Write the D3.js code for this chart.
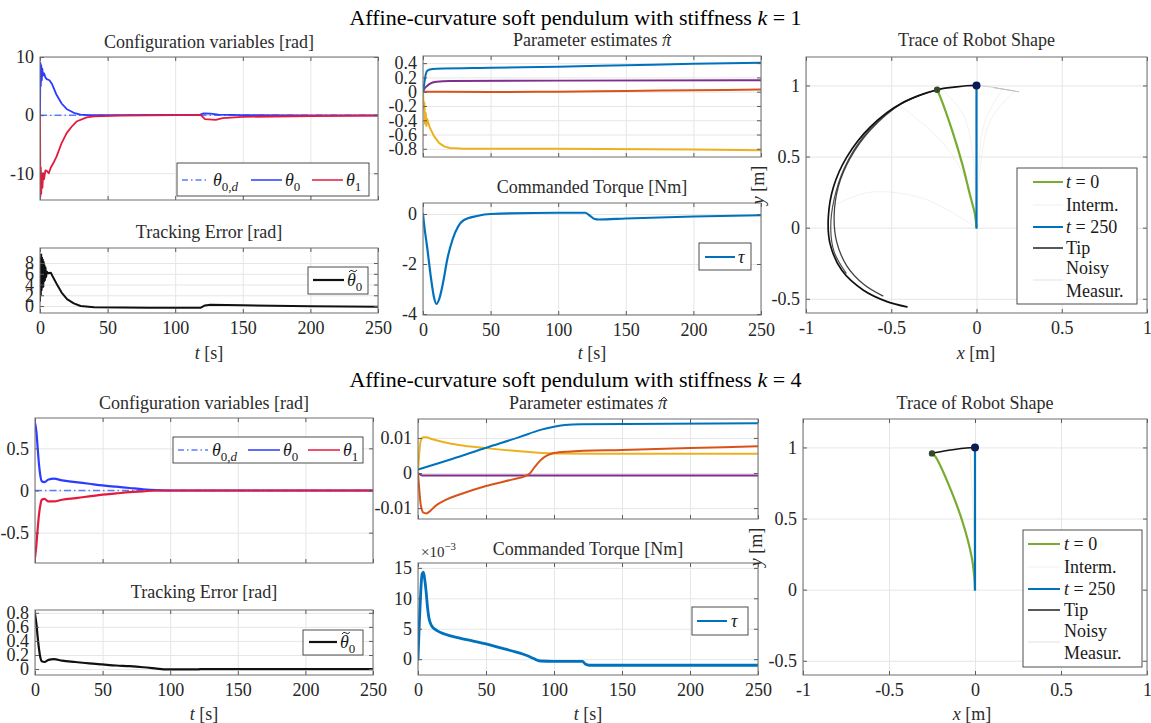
<!DOCTYPE html>
<html>
<head>
<meta charset="utf-8">
<script src="https://cdn.jsdelivr.net/npm/d3@7"></script>
<style>
  body { margin: 0; background: #fff; }
  svg text { font-family: "Liberation Serif", "DejaVu Serif", serif; fill: #262626; }
  .tick text { font-size: 18px; }
  .grid line { stroke: #e6e6e6; stroke-width: 1; }
  .grid path, .axis path { display: none; }
  .axis line { stroke: #5a5a5a; }
</style>
</head>
<body>
<div id="chart"></div>
<script>
// ---------- tick values ----------
const tTicks = [0, 50, 100, 150, 200, 250];
const cfgTicksK1 = [-10, 0, 10];
const errTicksK1 = [0, 2, 4, 6, 8];
const parTicksK1 = [-0.8, -0.6, -0.4, -0.2, 0, 0.2, 0.4];
const torTicksK1 = [-4, -2, 0];
const cfgTicksK4 = [-0.5, 0, 0.5];
const errTicksK4 = [0, 0.2, 0.4, 0.6, 0.8];
const parTicksK4 = [-0.01, 0, 0.01];
const torTicksK4 = [0, 5, 10, 15]; // x 10^-3
const traceXTicks = [-1, -0.5, 0, 0.5, 1];
const traceYTicks = [-0.5, 0, 0.5, 1];

// ---------- k = 1 : time series [t, value] ----------
const theta0dK1 = [[0, 0], [250, 0]];
const theta0K1 = [[0, 0], [0.3, 9], [0.6, 5], [0.9, 8.6], [1.3, 6], [1.7, 8], [2.2, 6.8], [3, 7.2], [4, 6.5],
  [5, 6.2], [7, 6], [9, 5.3], [12, 3.6], [16, 2], [20, 1], [25, 0.4], [30, 0.1], [35, 0], [60, 0], [90, 0.05],
  [118, 0.05], [121, 0.3], [126, 0.25], [132, 0.1], [150, 0], [200, -0.05], [250, -0.05]];
const theta1K1 = [[0, 0], [0.3, -14], [0.6, -9], [0.9, -13.5], [1.3, -10], [1.8, -12.5], [2.4, -10], [3, -11],
  [4, -9.5], [5, -9.6], [6.5, -10], [8, -9], [10, -8.2], [12.3, -7.1], [16, -4.8], [19.7, -3.1], [23.4, -2],
  [27, -1.1], [34.5, -0.4], [40, -0.2], [60, -0.1], [100, 0], [119, 0], [122, -0.7], [130, -0.8], [135, -0.5],
  [150, -0.3], [200, -0.15], [250, -0.1]];
const errK1 = [[0, 1], [0.3, 8.8], [0.6, 2], [0.9, 9.6], [1.2, 3], [1.5, 9], [1.8, 3.8], [2.1, 8.6], [2.4, 3.6],
  [2.7, 8.2], [3, 4.6], [3.3, 7.6], [3.6, 4.8], [4, 7.2], [4.5, 5.4], [5, 6.4], [6, 6.1], [8, 6.2], [10, 5.2],
  [13, 3.8], [16, 2.5], [20, 1.3], [25, 0.5], [30, 0], [40, -0.25], [80, -0.3], [119, -0.3], [122, 0.1],
  [126, 0.25], [150, 0.15], [200, -0.05], [250, -0.15]];
const parBlueK1 = [[0, 0], [1, 0.12], [2, 0.24], [3, 0.29], [5, 0.31], [10, 0.32], [50, 0.335], [100, 0.35],
  [150, 0.37], [200, 0.39], [250, 0.405]];
const parOrangeK1 = [[0, 0], [50, -0.005], [100, 0], [150, 0.01], [200, 0.02], [250, 0.03]];
const parYellowK1 = [[0, 0], [0.5, -0.25], [1, -0.15], [1.5, -0.45], [2, -0.3], [2.5, -0.48], [3, -0.38],
  [5, -0.5], [8, -0.62], [12, -0.72], [16, -0.77], [20, -0.79], [30, -0.8], [100, -0.8], [200, -0.81], [250, -0.82]];
const parPurpleK1 = [[0, 0], [1, 0.04], [3, 0.08], [6, 0.12], [10, 0.14], [20, 0.15], [100, 0.155], [250, 0.16]];
const torK1 = [[0, 0], [1, -0.5], [3, -1.3], [6, -2.6], [8, -3.3], [10, -3.6], [12, -3.4], [15, -2.7], [18, -1.8],
  [22, -1.0], [26, -0.5], [30, -0.25], [40, -0.08], [50, 0], [100, 0.05], [120, 0.05], [123, -0.05], [127, -0.2],
  [130, -0.22], [150, -0.18], [200, -0.1], [250, -0.05]];

// ---------- k = 4 : time series [t, value] ----------
const theta0dK4 = [[0, 0], [250, 0]];
const theta0K4 = [[0, 0.8], [1, 0.7], [2, 0.5], [3, 0.3], [4, 0.17], [5, 0.11], [7, 0.1], [10, 0.13], [14, 0.14],
  [20, 0.12], [30, 0.1], [40, 0.08], [50, 0.06], [60, 0.045], [70, 0.03], [80, 0.015], [90, 0.005], [100, 0], [250, 0]];
const theta1K4 = [[0, -0.8], [1, -0.65], [2, -0.45], [3, -0.28], [4, -0.17], [5, -0.11], [7, -0.1], [10, -0.13],
  [14, -0.13], [20, -0.11], [30, -0.09], [40, -0.07], [50, -0.05], [60, -0.035], [70, -0.02], [80, -0.01], [90, 0], [250, 0]];
const errK4 = [[0, 0.78], [1, 0.65], [2, 0.45], [3, 0.28], [4, 0.16], [5, 0.11], [7, 0.1], [10, 0.13], [14, 0.14],
  [20, 0.12], [30, 0.1], [40, 0.08], [50, 0.065], [60, 0.05], [70, 0.04], [80, 0.025], [90, 0.005], [95, -0.005],
  [121, -0.005], [123, 0], [250, 0]];
const parBlueK4 = [[0, 0.001], [25, 0.004], [50, 0.0072], [75, 0.0103], [90, 0.0123], [100, 0.0132], [108, 0.0137],
  [120, 0.0139], [250, 0.0142]];
const parOrangeK4 = [[0, 0], [1, -0.005], [2, -0.009], [4, -0.0113], [6, -0.0115], [9, -0.0108], [13, -0.0093],
  [20, -0.0077], [30, -0.0062], [50, -0.0037], [70, -0.0018], [78, -0.001], [82, -0.0002], [86, 0.0018], [90, 0.0036],
  [95, 0.005], [100, 0.0057], [110, 0.0061], [150, 0.0066], [200, 0.0071], [250, 0.0076]];
const parYellowK4 = [[0, 0], [1, 0.006], [2, 0.0092], [4, 0.0102], [6, 0.0102], [10, 0.0097], [20, 0.0087],
  [30, 0.008], [50, 0.0071], [75, 0.0062], [100, 0.0056], [150, 0.0055], [250, 0.0055]];
const parPurpleK4 = [[0, 0], [3, -0.0007], [250, -0.0007]];
const torK4 = [[0, 0], [1, 6], [2, 11], [3, 14], [4, 14.3], [5, 13], [6, 11], [7, 8.5], [8, 6.8], [10, 5.5],
  [14, 4.7], [20, 4.1], [30, 3.5], [40, 3.0], [50, 2.5], [60, 1.9], [70, 1.3], [75, 1.0], [80, 0.6], [85, 0.1],
  [90, -0.3], [100, -0.35], [121, -0.35], [123, -0.8], [126, -1.0], [250, -1.0]]; // x 10^-3

// ---------- robot shape traces [x, y] ----------
const shapeStartK1 = [[0, 0], [-0.01, 0.1], [-0.035, 0.215], [-0.084, 0.45], [-0.143, 0.684], [-0.212, 0.918], [-0.231, 0.97]];
const shapeEndK1 = [[0, 0], [0, 1]];
const tipPassA = [[0, 1], [-0.06, 0.998], [-0.12, 0.99], [-0.231, 0.97], [-0.427, 0.883], [-0.624, 0.707],
  [-0.761, 0.496], [-0.839, 0.286], [-0.869, 0.075], [-0.859, -0.112], [-0.79, -0.3], [-0.663, -0.44],
  [-0.525, -0.52], [-0.408, -0.557]];
const tipPassB = [[-0.25, 0.962], [-0.44, 0.872], [-0.62, 0.69], [-0.74, 0.49], [-0.81, 0.29], [-0.835, 0.08],
  [-0.82, -0.1], [-0.76, -0.27], [-0.66, -0.4], [-0.55, -0.48]];
const tipPassC = [[-0.3, 0.945], [-0.5, 0.83], [-0.66, 0.645], [-0.775, 0.42], [-0.835, 0.2], [-0.855, 0],
  [-0.835, -0.17], [-0.765, -0.32]];
const intermK1 = [
  [[0, 0], [-0.05, 0.3], [-0.2, 0.6], [-0.45, 0.86]],
  [[0, 0], [-0.3, 0.2], [-0.62, 0.25], [-0.85, 0.15]],
  [[0, 0], [-0.02, 0.5], [-0.08, 0.8], [-0.2, 0.97]],
  [[0, 0], [0.01, 0.4], [0.05, 0.75], [0.15, 0.97]],
  [[0, 0], [0.02, 0.4], [0.08, 0.75], [0.22, 0.96]]
];
const noisyK1 = [[0, 1], [0.08, 0.99], [0.15, 0.975], [0.25, 0.955], [0.18, 0.97], [0.1, 0.985], [0.22, 0.962]];

const shapeStartK4 = [[0, 0], [-0.005, 0.1], [-0.02, 0.234], [-0.07, 0.467], [-0.14, 0.7], [-0.23, 0.935], [-0.25, 0.958]];
const shapeEndK4 = [[0, 0], [0, 1]];
const tipK4 = [[-0.25, 0.958], [-0.18, 0.975], [-0.12, 0.986], [-0.05, 0.996], [0, 1]];
const intermK4 = [[[0, 0], [-0.01, 0.5], [-0.03, 0.99]]];

// ---------- colours ----------
const C = {
  ref: "#5b7cff", th0: "#2b3bff", th1: "#e31a3c",
  blue: "#0072BD", orange: "#D95319", yellow: "#EDB120", purple: "#7E2F8E",
  green: "#77AC30", black: "#111"
};

const W = 1151, H = 723;
const svg = d3.select("#chart").append("svg").attr("width", W).attr("height", H);
svg.append("rect").attr("width", W).attr("height", H).attr("fill", "#fff");

const fmt = d => String(+d.toFixed(4));
let clipN = 0;

function panel(box, xd, yd, xt, yt, xLabels) {
  const w = box[2] - box[0], h = box[3] - box[1];
  const g = svg.append("g").attr("transform", `translate(${box[0]},${box[1]})`);
  const x = d3.scaleLinear().domain(xd).range([0, w]);
  const y = d3.scaleLinear().domain(yd).range([h, 0]);

  g.append("g").attr("class", "grid")
    .call(d3.axisBottom(x).tickValues(xt).tickSize(h).tickFormat(""));
  g.append("g").attr("class", "grid")
    .call(d3.axisLeft(y).tickValues(yt).tickSize(-w).tickFormat(""));

  const id = "clip" + (clipN++);
  g.append("clipPath").attr("id", id).append("rect").attr("width", w).attr("height", h);
  const plot = g.append("g").attr("clip-path", `url(#${id})`);

  g.append("g").attr("class", "axis").attr("transform", `translate(0,${h})`)
    .call(d3.axisBottom(x).tickValues(xt).tickSizeInner(-4).tickSizeOuter(0).tickPadding(8)
      .tickFormat(xLabels ? fmt : ""));
  g.append("g").attr("class", "axis")
    .call(d3.axisTop(x).tickValues(xt).tickSizeInner(-4).tickSizeOuter(0).tickFormat(""));
  g.append("g").attr("class", "axis")
    .call(d3.axisLeft(y).tickValues(yt).tickSizeInner(-4).tickSizeOuter(0).tickPadding(6).tickFormat(fmt));
  g.append("g").attr("class", "axis").attr("transform", `translate(${w},0)`)
    .call(d3.axisRight(y).tickValues(yt).tickSizeInner(-4).tickSizeOuter(0).tickFormat(""));
  g.append("rect").attr("width", w).attr("height", h)
    .attr("fill", "none").attr("stroke", "#6e6e6e").attr("stroke-width", 1);

  return { g, plot, x, y, w, h, box };
}

function series(p, data, color, width, opt = {}) {
  const line = d3.line()
    .x(d => p.x(d[0])).y(d => p.y(d[1]))
    .curve(opt.curve || d3.curveMonotoneX);
  const path = p.plot.append("path").datum(data)
    .attr("d", line).attr("fill", "none")
    .attr("stroke", color).attr("stroke-width", width)
    .attr("stroke-linejoin", "round").attr("stroke-linecap", "round");
  if (opt.dash) path.attr("stroke-dasharray", opt.dash).attr("stroke-linecap", "butt");
  if (opt.opacity) path.attr("stroke-opacity", opt.opacity);
  return path;
}

function dot(p, pt, color, r) {
  p.plot.append("circle").attr("cx", p.x(pt[0])).attr("cy", p.y(pt[1]))
    .attr("r", r).attr("fill", color);
}

// rich text: parts = [[string, style]]; style letters: i italic, s subscript, u superscript,
// h hat accent, t tilde accent (accent drawn as a small stroke over the part's first glyph)
function rich(text, parts) {
  let low = false, idx = 0;
  const acc = [];
  parts.forEach(([s, st]) => {
    const ts = text.append("tspan").text(s);
    if (st.includes("i")) ts.attr("font-style", "italic");
    if (st.includes("s")) {
      ts.attr("font-size", "0.72em");
      if (!low) { ts.attr("dy", 5); low = true; }
    } else if (low) { ts.attr("dy", -5); low = false; }
    if (st.includes("u")) ts.attr("font-size", "0.72em").attr("dy", -7);
    if (st.includes("h")) acc.push([idx, "hat"]);
    if (st.includes("t")) acc.push([idx, "tilde"]);
    idx += s.length;
  });
  const node = text.node();
  const base = +text.attr("y");
  const size = +text.attr("font-size");
  acc.forEach(([i, kind]) => {
    const e = node.getExtentOfChar(i);
    const cx = e.x + e.width / 2 + 1.5;
    const path = d3.path();
    if (kind === "hat") {
      const top = base - 0.66 * size;
      path.moveTo(cx - 3, top + 3); path.lineTo(cx, top); path.lineTo(cx + 3, top + 3);
    } else {
      const top = base - 0.86 * size;
      path.moveTo(cx - 4, top + 1.5);
      path.quadraticCurveTo(cx - 2, top - 1.5, cx, top + 0.5);
      path.quadraticCurveTo(cx + 2, top + 2.5, cx + 4, top - 0.5);
    }
    svg.append("path").attr("d", path.toString()).attr("fill", "none")
      .attr("stroke", "#262626").attr("stroke-width", 1);
  });
  return text;
}

function label(x, y, parts, size, anchor = "middle", color) {
  const t = svg.append("text").attr("x", x).attr("y", y)
    .attr("font-size", size).attr("text-anchor", anchor);
  if (color) t.style("fill", color);
  return rich(t, parts);
}

function title(p, y, parts) {
  label((p.box[0] + p.box[2]) / 2, y, parts, 18, "middle", "#2b2b2b");
}

function legend(box, items) {
  svg.append("rect").attr("x", box[0]).attr("y", box[1])
    .attr("width", box[2] - box[0]).attr("height", box[3] - box[1])
    .attr("fill", "#fff").attr("stroke", "#3a3a3a").attr("stroke-width", 0.9);
  items.forEach(it => {
    if (it.color) {
      const l = svg.append("line").attr("x1", it.x0).attr("x2", it.x1)
        .attr("y1", it.y).attr("y2", it.y)
        .attr("stroke", it.color).attr("stroke-width", it.width || 1.5);
      if (it.dash) l.attr("stroke-dasharray", it.dash);
    }
    if (it.parts) label(it.tx, it.y + 6, it.parts, 18, "start", "#1a1a1a");
  });
}

// ================= k = 1 =================
label(W / 2, 25, [["Affine-curvature soft pendulum with stiffness ", ""], ["k", "i"], [" = 1", ""]], 22, "middle", "#000");

const cfg1 = panel([40, 57, 378, 200], [0, 250], [-14.6, 10], tTicks, cfgTicksK1, false);
series(cfg1, theta0dK1, C.ref, 1.5, { dash: "7,3,1.5,3", curve: d3.curveLinear });
series(cfg1, theta0K1, C.th0, 1.8, { curve: d3.curveLinear });
series(cfg1, theta1K1, C.th1, 1.8, { curve: d3.curveLinear });
title(cfg1, 48, [["Configuration variables [rad]", ""]]);
legend([177, 163, 369, 196], [
  { y: 180, x0: 182, x1: 208, color: C.ref, dash: "6,3,1.5,3", tx: 213, parts: [["\u03B8", "i"], ["0,", "s"], ["d", "si"]] },
  { y: 180, x0: 251, x1: 282, color: C.th0, tx: 285, parts: [["\u03B8", "i"], ["0", "s"]] },
  { y: 180, x0: 312, x1: 343, color: C.th1, tx: 346, parts: [["\u03B8", "i"], ["1", "s"]] }
]);

const err1 = panel([40, 248, 378, 313], [0, 250], [-1.3, 10.8], tTicks, errTicksK1, true);
series(err1, errK1, C.black, 2, { curve: d3.curveLinear });
title(err1, 238, [["Tracking Error [rad]", ""]]);
legend([308, 267, 368, 294], [
  { y: 280, x0: 313, x1: 344, color: C.black, width: 2.2, tx: 347, parts: [["\u03B8", "it"], ["0", "s"]] }
]);
label(209, 359, [["t", "i"], [" [s]", ""]], 18, "middle", "#2b2b2b");

const par1 = panel([423, 56, 761, 157], [0, 250], [-0.915, 0.5], tTicks, parTicksK1, false);
series(par1, parPurpleK1, C.purple, 2);
series(par1, parOrangeK1, C.orange, 2);
series(par1, parYellowK1, C.yellow, 2, { curve: d3.curveLinear });
series(par1, parBlueK1, C.blue, 2);
title(par1, 46, [["Parameter estimates ", ""], ["\u03C0", "ih"]]);

const tor1 = panel([423, 203, 761, 315], [0, 250], [-4.04, 0.44], tTicks, torTicksK1, true);
series(tor1, torK1, C.blue, 2.2);
title(tor1, 193, [["Commanded Torque [Nm]", ""]]);
legend([699, 243, 751, 270], [
  { y: 257, x0: 705, x1: 735, color: C.blue, width: 2, tx: 738, parts: [["\u03C4", "i"]] }
]);
label(592, 359, [["t", "i"], [" [s]", ""]], 18, "middle", "#2b2b2b");

const tr1 = panel([806, 57, 1147, 313], [-1, 1], [-0.6, 1.2], traceXTicks, traceYTicks, true);
intermK1.forEach(s => series(tr1, s, "#c8c8c8", 1, { curve: d3.curveCatmullRom, opacity: 0.25 }));
series(tr1, noisyK1, "#bbbbbb", 1, { curve: d3.curveLinear, opacity: 0.6 });
series(tr1, tipPassC, "#222", 1.2, { curve: d3.curveCatmullRom, opacity: 0.8 });
series(tr1, tipPassB, "#222", 1.3, { curve: d3.curveCatmullRom, opacity: 0.85 });
series(tr1, tipPassA, "#111", 1.7, { curve: d3.curveCatmullRom });
series(tr1, shapeStartK1, C.green, 2.2, { curve: d3.curveCatmullRom });
series(tr1, shapeEndK1, C.blue, 2.2, { curve: d3.curveLinear });
dot(tr1, shapeStartK1[shapeStartK1.length - 1], "#324a28", 3.2);
dot(tr1, shapeEndK1[1], "#0b1a55", 4);
title(tr1, 46, [["Trace of Robot Shape", ""]]);
label(976, 359, [["x", "i"], [" [m]", ""]], 18, "middle", "#2b2b2b");
svg.append("text").attr("transform", "translate(764,185) rotate(-90)")
  .attr("text-anchor", "middle").attr("font-size", 18).style("fill", "#2b2b2b")
  .call(t => rich(t, [["y", "i"], [" [m]", ""]]));
legend([1017, 168, 1137, 304], [
  { y: 182, x0: 1033, x1: 1063, color: C.green, width: 2, tx: 1066, parts: [["t", "i"], [" = 0", ""]] },
  { y: 205, x0: 1033, x1: 1063, color: "#efefef", width: 1, tx: 1066, parts: [["Interm.", ""]] },
  { y: 227, x0: 1033, x1: 1063, color: C.blue, width: 2, tx: 1066, parts: [["t", "i"], [" = 250", ""]] },
  { y: 248, x0: 1033, x1: 1063, color: "#222", width: 1.5, tx: 1066, parts: [["Tip", ""]] },
  { y: 268, tx: 1066, parts: [["Noisy", ""]] },
  { y: 280, x0: 1033, x1: 1063, color: "#e3e3e3", width: 1 },
  { y: 291, tx: 1066, parts: [["Measur.", ""]] }
]);

// ================= k = 4 =================
label(W / 2, 387, [["Affine-curvature soft pendulum with stiffness ", ""], ["k", "i"], [" = 4", ""]], 22, "middle", "#000");

const cfg4 = panel([35, 418, 373, 563], [0, 250], [-0.86, 0.86], tTicks, cfgTicksK4, false);
series(cfg4, theta0dK4, C.ref, 1.5, { dash: "7,3,1.5,3", curve: d3.curveLinear });
series(cfg4, theta0K4, C.th0, 2.2);
series(cfg4, theta1K4, C.th1, 2.2);
title(cfg4, 409, [["Configuration variables [rad]", ""]]);
legend([173, 437, 363, 463], [
  { y: 450, x0: 178, x1: 208, color: C.ref, dash: "6,3,1.5,3", tx: 212, parts: [["\u03B8", "i"], ["0,", "s"], ["d", "si"]] },
  { y: 450, x0: 248, x1: 280, color: C.th0, tx: 283, parts: [["\u03B8", "i"], ["0", "s"]] },
  { y: 450, x0: 308, x1: 340, color: C.th1, tx: 343, parts: [["\u03B8", "i"], ["1", "s"]] }
]);

const err4 = panel([35, 610, 373, 675], [0, 250], [-0.085, 0.84], tTicks, errTicksK4, true);
series(err4, errK4, C.black, 2.2);
title(err4, 598, [["Tracking Error [rad]", ""]]);
legend([303, 630, 363, 655], [
  { y: 642, x0: 309, x1: 337, color: C.black, width: 2.2, tx: 340, parts: [["\u03B8", "it"], ["0", "s"]] }
]);
label(204, 720, [["t", "i"], [" [s]", ""]], 18, "middle", "#2b2b2b");

const par4 = panel([418, 419, 758, 519], [0, 250], [-0.0131, 0.0154], tTicks, parTicksK4, false);
series(par4, parPurpleK4, C.purple, 2);
series(par4, parYellowK4, C.yellow, 2);
series(par4, parOrangeK4, C.orange, 2);
series(par4, parBlueK4, C.blue, 2);
title(par4, 409, [["Parameter estimates ", ""], ["\u03C0", "ih"]]);

const tor4 = panel([418, 563, 758, 675], [0, 250], [-2.6, 15.8], tTicks, torTicksK4, true);
series(tor4, torK4, C.blue, 2.8);
title(tor4, 555, [["Commanded Torque [Nm]", ""]]);
label(421, 557, [["\u00D710", ""], ["\u22123", "u"]], 15, "start", "#2b2b2b");
legend([692, 607, 748, 635], [
  { y: 621, x0: 697, x1: 727, color: C.blue, width: 2, tx: 731, parts: [["\u03C4", "i"]] }
]);
label(588, 720, [["t", "i"], [" [s]", ""]], 18, "middle", "#2b2b2b");

const tr4 = panel([803, 419, 1147, 675], [-1, 1], [-0.6, 1.2], traceXTicks, traceYTicks, true);
intermK4.forEach(s => series(tr4, s, "#e8e0b0", 1, { curve: d3.curveCatmullRom, opacity: 0.5 }));
series(tr4, shapeStartK4, C.green, 2.2, { curve: d3.curveCatmullRom });
series(tr4, shapeEndK4, C.blue, 2.2, { curve: d3.curveLinear });
series(tr4, tipK4, "#111", 1.4, { curve: d3.curveCatmullRom });
dot(tr4, shapeStartK4[shapeStartK4.length - 1], "#324a28", 3.2);
dot(tr4, shapeEndK4[1], "#0b1a55", 4);
title(tr4, 409, [["Trace of Robot Shape", ""]]);
label(972, 720, [["x", "i"], [" [m]", ""]], 18, "middle", "#2b2b2b");
svg.append("text").attr("transform", "translate(762,547) rotate(-90)")
  .attr("text-anchor", "middle").attr("font-size", 18).style("fill", "#2b2b2b")
  .call(t => rich(t, [["y", "i"], [" [m]", ""]]));
legend([1023, 530, 1142, 667], [
  { y: 544, x0: 1028, x1: 1060, color: C.green, width: 2, tx: 1064, parts: [["t", "i"], [" = 0", ""]] },
  { y: 567, x0: 1028, x1: 1060, color: "#efefef", width: 1, tx: 1064, parts: [["Interm.", ""]] },
  { y: 589, x0: 1028, x1: 1060, color: C.blue, width: 2, tx: 1064, parts: [["t", "i"], [" = 250", ""]] },
  { y: 610, x0: 1028, x1: 1060, color: "#222", width: 1.5, tx: 1064, parts: [["Tip", ""]] },
  { y: 631, tx: 1064, parts: [["Noisy", ""]] },
  { y: 642, x0: 1028, x1: 1060, color: "#e3e3e3", width: 1 },
  { y: 653, tx: 1064, parts: [["Measur.", ""]] }
]);
</script>
</body>
</html>
